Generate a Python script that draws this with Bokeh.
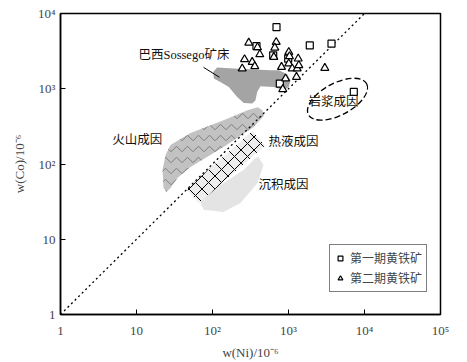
from bokeh.plotting import figure
from bokeh.models import FixedTicker, Legend, LegendItem
from bokeh.core.properties import value
from bokeh.embed import file_html
from bokeh.resources import INLINE

# ---- data (w in 10^-6) ----
# first-stage pyrite (squares)
p1_ni = [695, 379, 629, 991, 1906, 3680, 769, 7230]
p1_co = [6590, 3690, 2780, 2510, 3770, 3970, 1172, 907]
# second-stage pyrite (triangles)
p2_ni = [300, 689, 660, 419, 1009, 264, 333, 360, 246, 641, 1342, 1009,
         809, 1119, 1301, 1367, 1274, 914, 841, 3005, 391, 1030]
p2_co = [4090, 4170, 3510, 2860, 3070, 2460, 2265, 1986, 1852, 2640, 2510, 2158,
         1944, 1852, 1852, 2048, 1433, 1365, 985, 1888, 3545, 2693]

# Sossego deposit field
sossego_ni = [102, 115, 191, 349, 580, 745, 961, 1062, 1009, 867, 641, 428,
              387, 368, 333, 258, 211, 164, 127, 104]
sossego_co = [1670, 1910, 1852, 1796, 1758, 1758, 1556, 1297, 1057, 955, 1057, 1080,
              907, 704, 637, 649, 778, 1057, 1230, 1365]
# volcanic origin field
volc_ni = [24.1, 28.0, 51.4, 139.6, 288.8, 391, 455, 469, 346, 139.6, 51.4, 34.6,
           28.0, 24.8, 22.7, 22.0]
volc_co = [131.6, 178.6, 257.6, 382.7, 519, 569, 519, 432, 309, 168, 91.3, 65.3,
           48.1, 42.6, 48.1, 83.3]
# hydrothermal origin field
hydro_ni = [336, 491, 66.4, 45.5]
hydro_co = [273.5, 175.8, 30.0, 46.7]
# sedimentary origin field
sed_ni = [403, 469, 391, 234, 139.6, 76.2, 69.5, 86, 139.6, 256, 368]
sed_co = [123.8, 97, 56, 30.4, 23.1, 24.6, 30.4, 41.3, 56, 83.3, 120]
# magmatic origin field (ellipse centre)
magma_ni = [4415]
magma_co = [726]
# Co/Ni = 1 line
line_ni = [1, 10000]
line_co = [1, 10000]
# leader line for Sossego label
leader_ni = [76.2, 123.7]
leader_co = [1927, 1420]

label_ni = [10.6, 4.79, 546, 403, 1833]
label_co = [2780, 208, 197, 52.7, 669]
label_text = ["巴西Sossego矿床", "火山成因", "热液成因", "沉积成因", "岩浆成因"]

x_ticks = [1, 10, 100, 1000, 10000, 100000]
x_tick_labels = ["1", "10", "10²", "10³", "10⁴", "10⁵"]
y_ticks = [1, 10, 100, 1000, 10000]
y_tick_labels = ["1", "10", "10²", "10³", "10⁴"]

legend_labels = ["第一期黄铁矿", "第二期黄铁矿"]

FONT = "'Liberation Serif', 'Noto Sans CJK SC', serif"

p = figure(width=467, height=362, x_axis_type="log", y_axis_type="log",
           x_range=(1, 100000), y_range=(1, 10000),
           output_backend="svg", toolbar_location=None,
           min_border_left=60, min_border_right=27, min_border_top=13,
           min_border_bottom=47)
p.xgrid.visible = False
p.ygrid.visible = False
p.outline_line_color = "black"
p.outline_line_width = 1.5

# fields
p.patch(sed_ni, sed_co, fill_color="#e4e4e4", line_color=None)
p.patch(volc_ni, volc_co, fill_color="#c2c2c2", line_color=None,
        hatch_pattern="horizontal_wave", hatch_color="#7c7c7c",
        hatch_scale=11, hatch_weight=1)
p.patch(hydro_ni, hydro_co, fill_color="#ededed", line_color=None,
        hatch_pattern="diagonal_cross", hatch_color="black",
        hatch_scale=13, hatch_weight=1)
p.patch(sossego_ni, sossego_co, fill_color="#a4a4a4", line_color=None)

p.line(line_ni, line_co, line_color="black", line_dash="2 3", line_width=1.3)
p.line(leader_ni, leader_co, line_color="black", line_width=1)
p.ellipse(x=magma_ni, y=magma_co, width=66, height=32, angle=28,
          angle_units="deg", width_units="screen", height_units="screen",
          fill_color=None, line_color="black", line_dash="6 3", line_width=1.3)

r1 = p.scatter(p1_ni, p1_co, marker="square", size=7, fill_color="white",
               line_color="black", line_width=1.2)
r2 = p.scatter(p2_ni, p2_co, marker="triangle", size=8, fill_color="white",
               line_color="black", line_width=1.2)

p.text(x=label_ni, y=label_co, text=label_text, text_font=value(FONT),
       text_font_size="12.5px", text_baseline="middle", text_align="left",
       text_color="#111111")

legend = Legend(items=[LegendItem(label=legend_labels[0], renderers=[r1]),
                       LegendItem(label=legend_labels[1], renderers=[r2])],
                location=(269, 22), orientation="vertical")
legend.label_text_font = FONT
legend.label_text_font_size = "12px"
legend.glyph_width = 12
legend.glyph_height = 14
legend.label_height = 14
legend.label_standoff = 4
legend.spacing = 2
legend.padding = 4
legend.margin = 0
legend.border_line_color = "black"
legend.border_line_width = 1
legend.background_fill_alpha = 1
p.add_layout(legend)

for ax, ticks, labs in ((p.xaxis, x_ticks, x_tick_labels),
                        (p.yaxis, y_ticks, y_tick_labels)):
    ax.ticker = FixedTicker(ticks=ticks, minor_ticks=[])
    ax.major_label_overrides = {t: l for t, l in zip(ticks, labs)}
    ax.major_tick_in = 5
    ax.major_tick_out = 0
    ax.minor_tick_in = 0
    ax.minor_tick_out = 0
    ax.axis_line_color = "black"
    ax.axis_line_width = 1.5
    ax.major_tick_line_color = "black"
    ax.major_label_text_font = FONT
    ax.major_label_text_font_size = "13px"
    ax.axis_label_text_font = FONT
    ax.axis_label_text_font_size = "13px"
    ax.axis_label_text_font_style = "normal"

p.xaxis.axis_label = "w(Ni)/10⁻⁶"
p.yaxis.axis_label = "w(Co)/10⁻⁶"
p.xaxis.major_label_standoff = 8
p.xaxis.axis_label_standoff = 4
p.yaxis.major_label_standoff = 5
p.yaxis.axis_label_standoff = 8

open("out.html", "w").write(file_html(p, INLINE))
